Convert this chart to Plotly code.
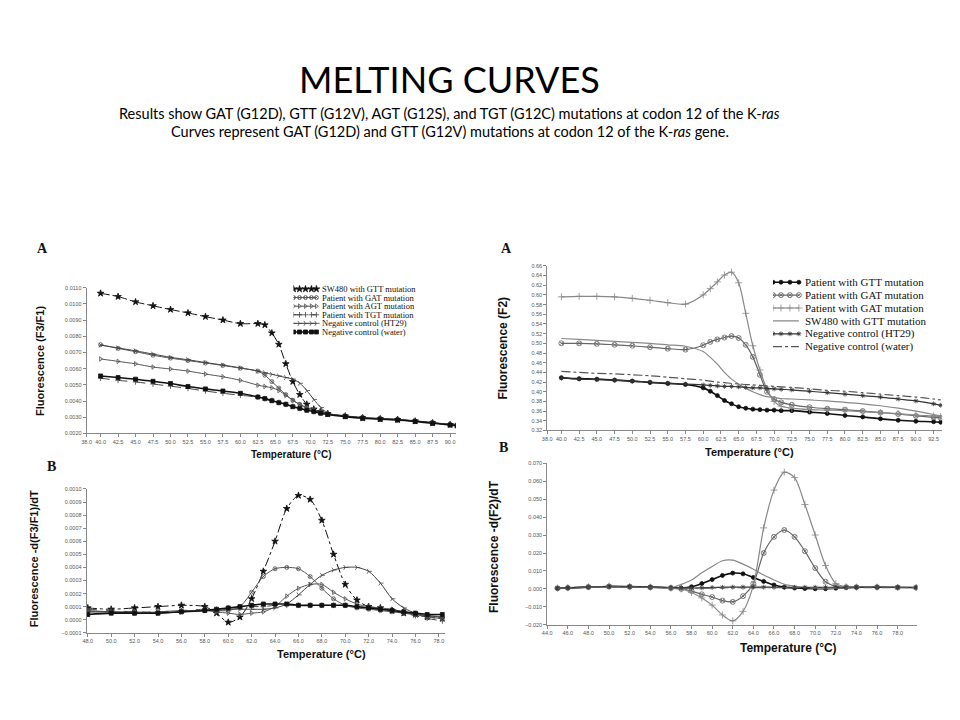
import plotly.graph_objects as go

W, H = 960, 720
PAGE_OFFSET = 8  # the page body margin shifts the figure by this many pixels

# ---------------- data ----------------
# left A: Fluorescence (F3/F1) vs temperature
temp_a1 = [40.0, 42.5, 45.0, 47.5, 50.0, 52.5, 55.0, 57.5, 60.0, 62.5, 63.5, 64.5, 65.5, 66.5,
           67.5, 68.5, 69.5, 70.5, 71.5, 72.5, 75.0, 77.5, 80.0, 82.5, 85.0, 87.5, 90.0, 91.0]
sw480_gtt_a1 = [0.01065, 0.01045, 0.01012, 0.00988, 0.00965, 0.00944, 0.00921, 0.00900, 0.00878, 0.00878,
                0.00870, 0.00820, 0.00750, 0.00630, 0.00520, 0.00440, 0.00380, 0.00350, 0.00334, 0.00322,
                0.00307, 0.00296, 0.00290, 0.00285, 0.00276, 0.00265, 0.00254, 0.00250]
gat_a1 = [0.00748, 0.00725, 0.00705, 0.00683, 0.00665, 0.00650, 0.00635, 0.00620, 0.00603, 0.00585,
          0.00560, 0.00520, 0.00480, 0.00440, 0.00405, 0.00380, 0.00360, 0.00345, 0.00332, 0.00322,
          0.00308, 0.00298, 0.00292, 0.00286, 0.00277, 0.00266, 0.00255, 0.00251]
agt_a1 = [0.00660, 0.00645, 0.00630, 0.00610, 0.00598, 0.00585, 0.00567, 0.00550, 0.00528, 0.00498,
          0.00490, 0.00482, 0.00465, 0.00435, 0.00405, 0.00378, 0.00355, 0.00340, 0.00330, 0.00320,
          0.00306, 0.00297, 0.00291, 0.00286, 0.00277, 0.00266, 0.00255, 0.00250]
tgt_a1 = [0.00541, 0.00528, 0.00518, 0.00505, 0.00492, 0.00478, 0.00462, 0.00448, 0.00436, 0.00424,
          0.00415, 0.00405, 0.00392, 0.00380, 0.00368, 0.00355, 0.00345, 0.00335, 0.00326, 0.00318,
          0.00305, 0.00295, 0.00289, 0.00284, 0.00275, 0.00264, 0.00253, 0.00249]
ht29_a1 = [0.00745, 0.00728, 0.00710, 0.00690, 0.00670, 0.00655, 0.00638, 0.00622, 0.00605, 0.00585,
           0.00575, 0.00565, 0.00555, 0.00545, 0.00535, 0.00510, 0.00465, 0.00410, 0.00360, 0.00325,
           0.00309, 0.00298, 0.00292, 0.00287, 0.00278, 0.00267, 0.00256, 0.00252]
water_a1 = [0.00555, 0.00545, 0.00535, 0.00522, 0.00508, 0.00490, 0.00475, 0.00462, 0.00448, 0.00425,
            0.00415, 0.00402, 0.00390, 0.00380, 0.00365, 0.00355, 0.00343, 0.00335, 0.00325, 0.00317,
            0.00304, 0.00294, 0.00288, 0.00283, 0.00274, 0.00263, 0.00252, 0.00248]

# left B: -d(F3/F1)/dT
temp_b1 = [48, 50, 52, 54, 56, 58, 59, 60, 61, 62, 63, 64, 65, 66, 67, 68, 69, 70, 71, 72, 73, 74,
           75, 76, 77, 78.3]
sw480_gtt_b1 = [0.00009, 0.00008, 0.00009, 0.00010, 0.00011, 0.00010, 0.00005, -0.00002, 0.00002, 0.00016,
                0.00037, 0.00060, 0.00085, 0.00095, 0.00092, 0.00076, 0.00050, 0.00027, 0.00015, 0.00010,
                0.00009, 0.00007, 0.00005, 0.00004, 0.00002, 0.00001]
gat_b1 = [0.00007, 0.00006, 0.00005, 0.00006, 0.00007, 0.00007, 0.00007, 0.00007, 0.00010, 0.00021,
          0.00033, 0.00039, 0.00040, 0.00039, 0.00033, 0.00024, 0.00016, 0.00011, 0.00009, 0.00008,
          0.00007, 0.00006, 0.00005, 0.00004, 0.00002, 0.00001]
agt_b1 = [0.00006, 0.00006, 0.00006, 0.00005, 0.00006, 0.00007, 0.00006, 0.00005, 0.00004, 0.00005,
          0.00006, 0.00010, 0.00018, 0.00024, 0.00027, 0.00027, 0.00021, 0.00016, 0.00012, 0.00010,
          0.00009, 0.00008, 0.00006, 0.00004, 0.00003, 0.00002]
tgt_b1 = [0.00008, 0.00007, 0.00006, 0.00006, 0.00007, 0.00008, 0.00008, 0.00009, 0.00009, 0.00010,
          0.00010, 0.00011, 0.00011, 0.00011, 0.00011, 0.00011, 0.00011, 0.00011, 0.00010, 0.00009,
          0.00008, 0.00007, 0.00005, 0.00003, 0.00001, -0.00001]
ht29_b1 = [0.00006, 0.00006, 0.00005, 0.00005, 0.00006, 0.00007, 0.00007, 0.00008, 0.00008, 0.00008,
           0.00008, 0.00009, 0.00012, 0.00019, 0.00027, 0.00034, 0.00038, 0.00040, 0.00040, 0.00037,
           0.00028, 0.00016, 0.00009, 0.00005, 0.00003, 0.00002]
water_b1 = [0.00004, 0.00005, 0.00005, 0.00005, 0.00006, 0.00007, 0.00008, 0.00009, 0.00010, 0.00011,
            0.00012, 0.00012, 0.00012, 0.00011, 0.00011, 0.00011, 0.00011, 0.00011, 0.00010, 0.00009,
            0.00008, 0.00007, 0.00006, 0.00005, 0.00004, 0.00004]

# right A: Fluorescence (F2)
temp_a2 = [40, 42.5, 45, 47.5, 50, 52.5, 55, 57.5, 60, 61, 62, 63, 64, 65, 66, 67, 68, 69, 70, 71,
           72.5, 75, 77.5, 80, 82.5, 85, 87.5, 90, 92.5, 93.5]
gtt_a2 = [0.429, 0.427, 0.426, 0.424, 0.422, 0.419, 0.417, 0.415, 0.408, 0.401, 0.392, 0.382, 0.375, 0.369,
          0.366, 0.364, 0.363, 0.362, 0.362, 0.361, 0.361, 0.358, 0.355, 0.351, 0.348, 0.344, 0.341, 0.339,
          0.338, 0.337]
gat_circ_a2 = [0.500, 0.500, 0.499, 0.497, 0.495, 0.492, 0.489, 0.487, 0.496, 0.503, 0.508, 0.512, 0.515,
               0.511, 0.497, 0.472, 0.435, 0.400, 0.385, 0.378, 0.373, 0.368, 0.365, 0.363, 0.360, 0.357,
               0.354, 0.350, 0.347, 0.346]
gat_plus_a2 = [0.596, 0.597, 0.597, 0.596, 0.593, 0.589, 0.584, 0.581, 0.600, 0.613, 0.627, 0.641, 0.647,
               0.625, 0.562, 0.495, 0.445, 0.405, 0.380, 0.370, 0.366, 0.363, 0.362, 0.361, 0.359, 0.357,
               0.355, 0.352, 0.350, 0.349]
sw480_a2 = [0.510, 0.508, 0.506, 0.504, 0.502, 0.500, 0.497, 0.494, 0.483, 0.471, 0.457, 0.440, 0.426,
            0.416, 0.407, 0.400, 0.394, 0.390, 0.388, 0.386, 0.385, 0.383, 0.381, 0.378, 0.375, 0.371,
            0.366, 0.360, 0.353, 0.350]
ht29_a2 = [0.428, 0.426, 0.425, 0.424, 0.422, 0.420, 0.418, 0.416, 0.414, 0.413, 0.412, 0.411, 0.411,
           0.410, 0.409, 0.408, 0.408, 0.407, 0.406, 0.405, 0.404, 0.401, 0.398, 0.395, 0.392, 0.389,
           0.385, 0.381, 0.375, 0.372]
water_a2 = [0.442, 0.440, 0.438, 0.437, 0.435, 0.433, 0.430, 0.427, 0.424, 0.422, 0.420, 0.419, 0.417,
            0.416, 0.415, 0.414, 0.413, 0.412, 0.411, 0.410, 0.409, 0.406, 0.403, 0.401, 0.398, 0.395,
            0.392, 0.389, 0.385, 0.383]

# right B: -d(F2)/dT
temp_b2 = [45, 46, 48, 50, 52, 54, 56, 57, 58, 59, 60, 61, 62, 63, 64, 65, 66, 67, 68, 69, 70, 71, 72,
           73, 74, 76, 78, 79.8]
gat_plus_b2 = [0.0005, 0.0007, 0.0012, 0.0015, 0.0013, 0.0010, 0.0005, 0.0000, -0.0020, -0.0050, -0.0090,
               -0.0145, -0.0178, -0.0125, 0.0020, 0.0340, 0.0550, 0.0650, 0.0620, 0.0470, 0.0300, 0.0130,
               0.0030, 0.0012, 0.0010, 0.0010, 0.0008, 0.0008]
gat_circ_b2 = [0.0004, 0.0006, 0.0011, 0.0014, 0.0012, 0.0009, 0.0004, 0.0000, -0.0012, -0.0030, -0.0045,
               -0.0065, -0.0072, -0.0040, 0.0030, 0.0200, 0.0290, 0.0328, 0.0290, 0.0210, 0.0116, 0.0040,
               0.0015, 0.0010, 0.0010, 0.0010, 0.0008, 0.0007]
sw480_b2 = [0.0004, 0.0006, 0.0010, 0.0013, 0.0012, 0.0010, 0.0007, 0.0025, 0.0050, 0.0090, 0.0125,
            0.0157, 0.0160, 0.0138, 0.0110, 0.0077, 0.0050, 0.0026, 0.0015, 0.0008, 0.0003, 0.0002,
            0.0004, 0.0006, 0.0008, 0.0009, 0.0008, 0.0008]
gtt_b2 = [0.0003, 0.0005, 0.0009, 0.0012, 0.0011, 0.0009, 0.0006, 0.0005, 0.0012, 0.0030, 0.0052,
          0.0075, 0.0088, 0.0084, 0.0064, 0.0042, 0.0022, 0.0010, 0.0005, 0.0002, 0.0001, 0.0001,
          0.0004, 0.0007, 0.0009, 0.0010, 0.0009, 0.0008]
ht29_b2 = [0.0004, 0.0006, 0.0011, 0.0015, 0.0014, 0.0011, 0.0008, 0.0006, 0.0005, 0.0006, 0.0008,
           0.0009, 0.0010, 0.0010, 0.0010, 0.0010, 0.0009, 0.0009, 0.0009, 0.0009, 0.0009, 0.0009,
           0.0009, 0.0009, 0.0009, 0.0009, 0.0008, 0.0008]
water_b2 = [0.0003, 0.0005, 0.0010, 0.0013, 0.0012, 0.0010, 0.0007, 0.0005, 0.0004, 0.0004, 0.0005,
            0.0006, 0.0007, 0.0007, 0.0007, 0.0007, 0.0007, 0.0007, 0.0007, 0.0007, 0.0007, 0.0007,
            0.0007, 0.0007, 0.0007, 0.0007, 0.0007, 0.0007]

legend_left = ["SW480 with GTT mutation", "Patient with GAT mutation", "Patient with AGT mutation",
               "Patient with TGT mutation", "Negative control (HT29)", "Negative control (water)"]
legend_right = ["Patient with GTT mutation", "Patient with GAT mutation", "Patient with GAT mutation",
                "SW480 with GTT mutation", "Negative control (HT29)", "Negative control (water)"]

# ---------------- styles ----------------
style_left = [
    dict(color="#111", dash="dashdot", width=1, symbol="star", size=5),
    dict(color="#555", dash="solid", width=1, symbol="circle-x-open", size=4),
    dict(color="#555", dash="solid", width=1, symbol="triangle-right-open", size=4),
    dict(color="#444", dash="dash", width=1, symbol="cross-thin-open", size=4),
    dict(color="#444", dash="solid", width=1, symbol="y-right-open", size=4),
    dict(color="#111", dash="solid", width=1.6, symbol="square", size=4),
]
style_right = [
    dict(color="#111", dash="solid", width=1.6, symbol="circle", size=4),
    dict(color="#666", dash="solid", width=1.2, symbol="circle-x-open", size=5),
    dict(color="#888", dash="solid", width=1.2, symbol="cross-thin-open", size=5),
    dict(color="#888", dash="solid", width=1.2, symbol=None, size=0),
    dict(color="#333", dash="solid", width=1.2, symbol="asterisk-open", size=4),
    dict(color="#555", dash="dashdot", width=1.2, symbol=None, size=0),
]


def px(x):
    return (x - PAGE_OFFSET) / W


def py(y):
    return 1 - (y - PAGE_OFFSET) / H


fig = go.Figure()


def add_series(x, y, st, xa, ya, shape="spline"):
    mode = "lines+markers" if st["symbol"] else "lines"
    fig.add_trace(go.Scatter(
        x=x, y=y, mode=mode, xaxis=xa, yaxis=ya, showlegend=False,
        line=dict(color=st["color"], width=st["width"], dash=st["dash"], shape=shape, smoothing=0.8),
        marker=dict(symbol=st["symbol"] or "circle", size=st["size"], color=st["color"],
                    line=dict(color=st["color"], width=0.8)),
    ))


left_a = [sw480_gtt_a1, gat_a1, agt_a1, tgt_a1, ht29_a1, water_a1]
left_b = [sw480_gtt_b1, gat_b1, agt_b1, tgt_b1, ht29_b1, water_b1]
right_a = [gtt_a2, gat_circ_a2, gat_plus_a2, sw480_a2, ht29_a2, water_a2]
right_b = [gtt_b2, gat_circ_b2, gat_plus_b2, sw480_b2, ht29_b2, water_b2]

for ser, st in zip(left_a, style_left):
    add_series(temp_a1, ser, st, "x", "y")
for ser, st in zip(left_b, style_left):
    add_series(temp_b1, ser, st, "x2", "y2")
for ser, st in zip(right_a, style_right):
    add_series(temp_a2, ser, st, "x3", "y3")
for ser, st in zip(right_b, style_right):
    add_series(temp_b2, ser, st, "x4", "y4")

# legend keys (drawn in their own small pixel-scaled axes)
for i, st in enumerate(style_left):
    add_series([0, 6, 12, 18, 23], [-i] * 5, st, "x5", "y5", shape="linear")
for i, st in enumerate(style_right):
    add_series([0, 8, 17, 26], [-i] * 4, st, "x6", "y6", shape="linear")

tick_font = dict(family="Liberation Sans, Arial", size=5.5, color="#555")
ax = dict(showgrid=False, zeroline=False, showline=True, linecolor="#888", linewidth=1,
          ticks="outside", ticklen=3, tickcolor="#888", tickwidth=1, tickfont=tick_font, tickangle=0)

ticks_a = [38.0] + [40.0 + 2.5 * k for k in range(21)]
ticks_a2 = [38.0] + [40.0 + 2.5 * k for k in range(22)]

hidden = dict(visible=False, showgrid=False, zeroline=False, fixedrange=True)

fig.update_layout(
    width=W, height=H, margin=dict(l=0, r=0, t=0, b=0),
    paper_bgcolor="white", plot_bgcolor="white",
    xaxis=dict(ax, domain=[px(82), px(453)], range=[38.0, 90.8], tickvals=ticks_a,
               ticktext=["%.1f" % v for v in ticks_a], anchor="y"),
    yaxis=dict(ax, domain=[py(434), py(287)], range=[0.0020, 0.0110], dtick=0.001, tickformat=".4f",
               anchor="x"),
    xaxis2=dict(ax, domain=[px(82), px(442)], range=[47.9, 78.5], tick0=48, dtick=2, tickformat=".1f",
                anchor="y2"),
    yaxis2=dict(ax, domain=[py(635), py(490)], range=[-0.0001, 0.0010], dtick=0.0001, tickformat=".4f",
                anchor="x2"),
    xaxis3=dict(ax, domain=[px(545), px(942)], range=[38.0, 93.7], tickvals=ticks_a2,
                ticktext=["%.1f" % v for v in ticks_a2], anchor="y3"),
    yaxis3=dict(ax, domain=[py(431), py(265)], range=[0.32, 0.66], dtick=0.02, tickformat=".2f",
                anchor="x3"),
    xaxis4=dict(ax, domain=[px(545), px(917)], range=[44.0, 79.9], tick0=44, dtick=2, tickformat=".1f",
                anchor="y4"),
    yaxis4=dict(ax, domain=[py(627), py(464)], range=[-0.020, 0.070], dtick=0.01, tickformat=".3f",
                anchor="x4"),
    xaxis5=dict(hidden, domain=[px(290), px(420)], range=[0, 130], anchor="y5"),
    yaxis5=dict(hidden, domain=[py(336), py(284)], range=[-5.5, 0.5], anchor="x5"),
    xaxis6=dict(hidden, domain=[px(772), px(932)], range=[0, 160], anchor="y6"),
    yaxis6=dict(hidden, domain=[py(353), py(275)], range=[-5.5, 0.5], anchor="x6"),
)

ann = []


def note(text, x, y, size, family="Lato", angle=0, color="#000"):
    ann.append(dict(text=text, x=px(x), y=py(y), xref="paper", yref="paper", xanchor="center",
                    yanchor="middle", showarrow=False, textangle=angle,
                    font=dict(family=family, size=size, color=color)))


# titles
note("MELTING CURVES", 447, 77, 36)
note("Results show GAT (G12D), GTT (G12V), AGT (G12S), and TGT (G12C) mutations at codon 12 of the K-<i>ras</i>",
     447, 111, 14.5)
note("Curves represent GAT (G12D) and GTT (G12V) mutations at codon 12 of the K-<i>ras</i> gene.",
     447, 130, 14.5)

# panel letters
for letter, x, y in [("A", 38, 247), ("B", 47, 467), ("A", 504, 248), ("B", 501, 448)]:
    note("<b>%s</b>" % letter, x, y, 14, family="Liberation Serif", color="#111")

# axis titles
sans = "Liberation Sans, Arial"
for x, y, size in [(288, 455, 10), (318, 656, 11), (748, 453, 11), (788, 650, 12)]:
    note("<b>Temperature (°C)</b>", x, y, size, family=sans, color="#111")
for txt, x, y, size in [("Fluorescence (F3/F1)", 35, 361, 11), ("Fluorescence -d(F3/F1)/dT", 30, 560, 11),
                        ("Fluorescence (F2)", 501, 348, 12), ("Fluorescence -d(F2)/dT", 491, 548, 12)]:
    note("<b>%s</b>" % txt, x, y, size, family=sans, angle=-90, color="#111")

# legend texts
for i, name in enumerate(legend_left):
    ann.append(dict(text=name, x=27, y=-i, xref="x5", yref="y5", xanchor="left", yanchor="middle",
                    showarrow=False, font=dict(family="Liberation Serif", size=8.5, color="#111")))
for i, name in enumerate(legend_right):
    ann.append(dict(text=name, x=30, y=-i, xref="x6", yref="y6", xanchor="left", yanchor="middle",
                    showarrow=False, font=dict(family="Liberation Serif", size=11, color="#111")))

fig.update_layout(annotations=ann)

fig.write_html("out.html")
